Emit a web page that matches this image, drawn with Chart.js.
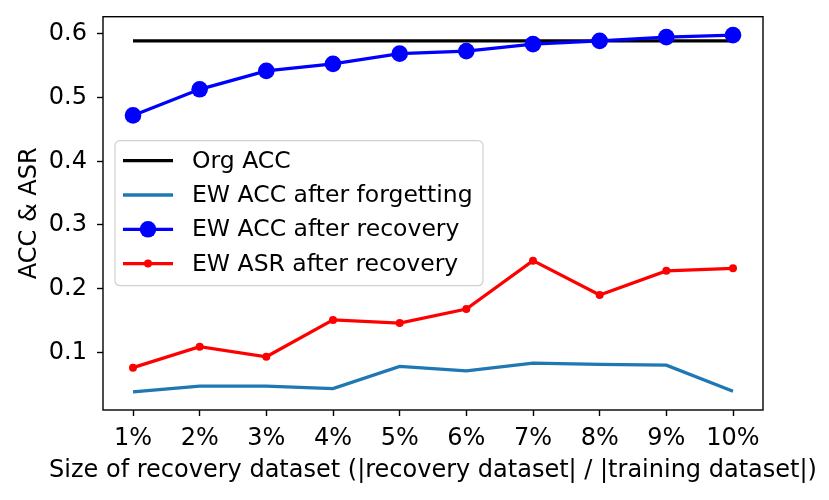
<!DOCTYPE html>
<html>
<head>
<meta charset="utf-8">
<script src="https://cdn.jsdelivr.net/npm/chart.js@4.4.1/dist/chart.umd.min.js"></script>
<style>
  html, body { margin: 0; padding: 0; background: #fff; }
  #wrap { width: 829px; height: 500px; }
</style>
</head>
<body>
<div id="wrap"><canvas id="chart" width="829" height="500"></canvas></div>
<script>
// values
const categories = ['1%', '2%', '3%', '4%', '5%', '6%', '7%', '8%', '9%', '10%'];
const orgAcc = [0.589, 0.589, 0.589, 0.589, 0.589, 0.589, 0.589, 0.589, 0.589, 0.589];
const ewAccForget = [0.038, 0.047, 0.047, 0.043, 0.078, 0.071, 0.083, 0.081, 0.080, 0.039];
const ewAccRecovery = [0.472, 0.513, 0.542, 0.553, 0.569, 0.573, 0.584, 0.589, 0.595, 0.598];
const ewAsrRecovery = [0.076, 0.109, 0.093, 0.151, 0.146, 0.168, 0.244, 0.190, 0.228, 0.232];
const yTicks = [0.1, 0.2, 0.3, 0.4, 0.5, 0.6];
const xTitle = 'Size of recovery dataset (|recovery dataset| / |training dataset|)';

const FONT = 'DejaVu Sans';
const FS = 24;

function pts(arr) {
  return arr.map((v, i) => ({ x: i + 1, y: v }));
}

// frame, x title (wider than the plot) and legend box inside the plot, matplotlib style
const framePlugin = {
  id: 'frameAndLegend',
  afterDatasetsDraw(chart) {
    const ctx = chart.ctx;
    const a = chart.chartArea;
    ctx.save();
    ctx.strokeStyle = '#000';
    ctx.lineWidth = 1.4;
    ctx.strokeRect(a.left, a.top, a.right - a.left, a.bottom - a.top);

    ctx.font = FS + 'px "' + FONT + '"';
    ctx.fillStyle = '#000';
    ctx.textAlign = 'center';
    ctx.textBaseline = 'alphabetic';
    ctx.fillText(xTitle, (a.left + a.right) / 2, 477);

    // legend
    const bx = a.left + 12, by = a.top + 124, bw = 368, bh = 145;
    ctx.beginPath();
    ctx.roundRect(bx, by, bw, bh, 5);
    ctx.fillStyle = 'rgba(255,255,255,0.8)';
    ctx.fill();
    ctx.strokeStyle = '#d0d0d0';
    ctx.lineWidth = 1.2;
    ctx.stroke();

    ctx.font = (FS - 0.5) + 'px "' + FONT + '"';
    ctx.textBaseline = 'middle';
    ctx.textAlign = 'left';
    chart.data.datasets.forEach((ds, i) => {
      const y = by + 20 + i * 34.3;
      const x0 = bx + 8, x1 = bx + 58;
      ctx.strokeStyle = ds.borderColor;
      ctx.lineWidth = ds.borderWidth;
      ctx.beginPath();
      ctx.moveTo(x0, y);
      ctx.lineTo(x1, y);
      ctx.stroke();
      if (ds.pointRadius > 0) {
        ctx.fillStyle = ds.borderColor;
        ctx.beginPath();
        ctx.arc((x0 + x1) / 2, y, ds.pointRadius, 0, Math.PI * 2);
        ctx.fill();
      }
      ctx.fillStyle = '#000';
      ctx.fillText(ds.label, bx + 77, y + 1);
    });
    ctx.restore();
  }
};

new Chart(document.getElementById('chart'), {
  type: 'line',
  data: {
    datasets: [
      { label: 'Org ACC', data: pts(orgAcc), borderColor: '#000000', borderWidth: 3.3, pointRadius: 0, order: 4 },
      { label: 'EW ACC after forgetting', data: pts(ewAccForget), borderColor: '#1f77b4', borderWidth: 3.3, pointRadius: 0, order: 3 },
      { label: 'EW ACC after recovery', data: pts(ewAccRecovery), borderColor: '#0000ff', backgroundColor: '#0000ff', borderWidth: 3.3, pointRadius: 8.3, pointBorderWidth: 0, order: 2 },
      { label: 'EW ASR after recovery', data: pts(ewAsrRecovery), borderColor: '#ff0000', backgroundColor: '#ff0000', borderWidth: 3.3, pointRadius: 4, pointBorderWidth: 0, order: 1 }
    ]
  },
  options: {
    responsive: false,
    animation: false,
    layout: { padding: { left: 0, top: 16.7, right: 66, bottom: 0 } },
    plugins: { legend: { display: false }, tooltip: { enabled: false } },
    elements: { line: { tension: 0 } },
    scales: {
      x: {
        type: 'linear',
        min: 0.55,
        max: 10.45,
        afterBuildTicks: s => { s.ticks = categories.map((c, i) => ({ value: i + 1 })); },
        afterFit: s => { s.height = 90; s.paddingLeft = 0; s.paddingRight = 0; },
        ticks: {
          color: '#000',
          font: { family: FONT, size: FS },
          padding: 8,
          maxRotation: 0,
          autoSkip: false,
          callback: v => categories[v - 1]
        },
        grid: { drawOnChartArea: false, drawTicks: true, tickLength: 6, tickColor: '#000', tickWidth: 1.4 },
        border: { display: false },
        title: { display: false }
      },
      y: {
        min: 0.0095,
        max: 0.627,
        afterBuildTicks: s => { s.ticks = yTicks.map(v => ({ value: v })); },
        afterFit: s => { s.width = 103; s.paddingTop = 0; s.paddingBottom = 0; },
        ticks: {
          color: '#000',
          font: { family: FONT, size: FS },
          padding: 10,
          callback: v => v.toFixed(1)
        },
        grid: { drawOnChartArea: false, drawTicks: true, tickLength: 6, tickColor: '#000', tickWidth: 1.4 },
        border: { display: false },
        title: {
          display: true,
          text: 'ACC & ASR',
          color: '#000',
          font: { family: FONT, size: FS },
          padding: { top: 15.5, bottom: 0 }
        }
      }
    }
  },
  plugins: [framePlugin]
});
</script>
</body>
</html>
